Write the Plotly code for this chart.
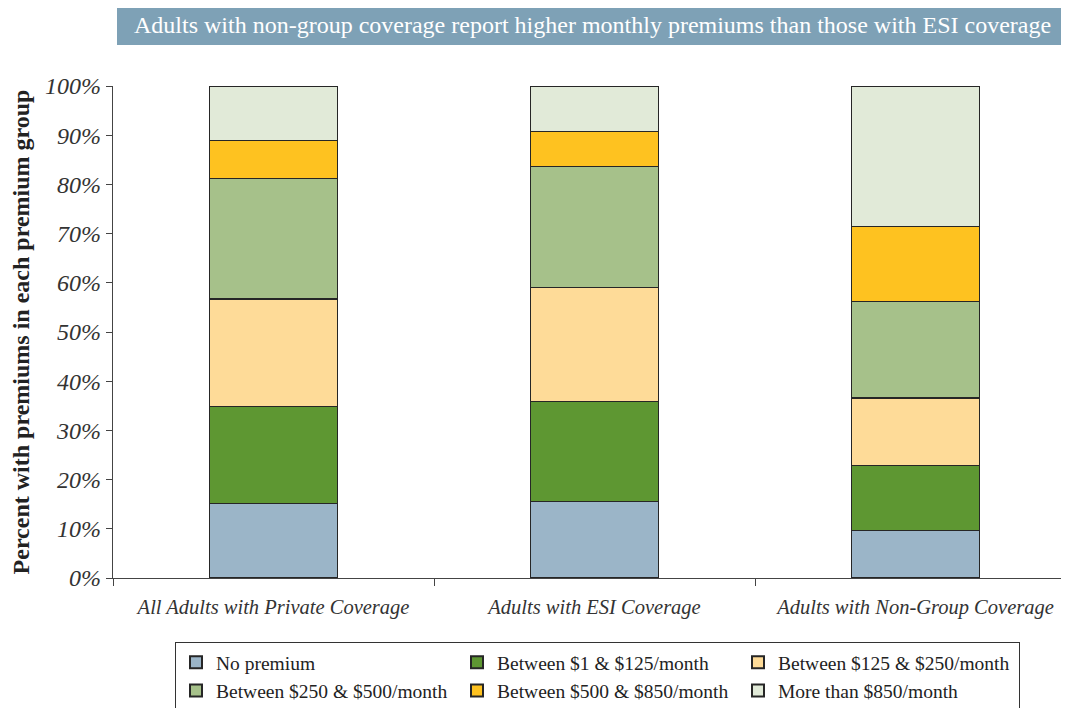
import plotly.graph_objects as go

categories = ["All Adults with Private Coverage", "Adults with ESI Coverage", "Adults with Non-Group Coverage"]
series_names = ["No premium", "Between $1 & $125/month", "Between $125 & $250/month",
                "Between $250 & $500/month", "Between $500 & $850/month", "More than $850/month"]
no_premium = [15.2, 15.5, 9.6]
between_1_125 = [19.6, 20.4, 13.2]
between_125_250 = [21.9, 23.2, 13.8]
between_250_500 = [24.5, 24.5, 19.6]
between_500_850 = [7.7, 7.1, 15.3]
more_than_850 = [11.1, 9.3, 28.5]
y_ticks = [0, 10, 20, 30, 40, 50, 60, 70, 80, 90, 100]
y_tick_labels = [f"{v}%" for v in y_ticks]

series_values = [no_premium, between_1_125, between_125_250, between_250_500, between_500_850, more_than_850]
colors = ["#9bb5c8", "#5e9732", "#fedb98", "#a6c18a", "#fec220", "#e1ead8"]

SERIF = "Liberation Serif, Times New Roman, serif"

# the page has an 8px body margin, so the figure is laid out 8px smaller
W, H = 1061, 700
L, T, B = 105, 78, 130
PW = W - L
PH = H - T - B

fig = go.Figure()
for name, vals, col in zip(series_names, series_values, colors):
    fig.add_trace(go.Bar(
        x=categories, y=vals, name=name,
        marker=dict(color=col, line=dict(color="#262626", width=1.2)),
        width=0.4,
    ))

fig.update_layout(
    barmode="stack",
    width=W, height=H,
    margin=dict(l=L, r=0, t=T, b=B, autoexpand=False),
    paper_bgcolor="white", plot_bgcolor="white",
    font=dict(family=SERIF, color="#333333"),
    showlegend=True,
    legend=dict(
        orientation="h", x=(175 - 8 - L) / PW, xanchor="left",
        y=-(642 - 8 - (T + PH)) / PH, yanchor="top",
        bordercolor="#333333", borderwidth=1, bgcolor="white",
        font=dict(family=SERIF, size=19.5, color="#222222"),
        entrywidth=236, entrywidthmode="pixels",
        traceorder="normal", itemsizing="constant",
        tracegroupgap=0,
    ),
    xaxis=dict(
        range=[-0.5, 2.478],
        showline=True, linecolor="#444444", linewidth=1.3,
        ticks="outside", tickson="boundaries", ticklen=7, tickcolor="#444444",
        tickfont=dict(family=SERIF, size=20.5, style="italic", color="#333333"),
        ticklabelstandoff=10,
        showgrid=False,
    ),
    yaxis=dict(
        range=[0, 100],
        tickvals=y_ticks, ticktext=y_tick_labels,
        showline=True, linecolor="#444444", linewidth=1.3,
        ticks="outside", ticklen=6, tickcolor="#444444",
        tickfont=dict(family=SERIF, size=24, style="italic", color="#333333"),
        showgrid=False, zeroline=False,
        title=dict(text="Percent with premiums in each premium group",
                   font=dict(family=SERIF, size=24, weight="bold", color="#222222"),
                   standoff=12),
    ),
)

fig.add_shape(type="rect", xref="paper", yref="paper",
              x0=(117 - 8 - L) / PW, x1=(1067 - 8 - L) / PW,
              y0=(T + PH - (45 - 8)) / PH, y1=(T + PH - (6 - 8)) / PH,
              fillcolor="#7ea1b6", line=dict(width=0), layer="above")
fig.add_annotation(xref="paper", yref="paper",
                   x=((117 + 1067) / 2 - 8 - L) / PW, y=(T + PH - (25.5 - 8)) / PH,
                   text="Adults with non-group coverage report higher monthly premiums than those with ESI coverage",
                   showarrow=False, xanchor="center", yanchor="middle",
                   font=dict(family=SERIF, size=24, color="white"))

fig.write_html("out.html")
